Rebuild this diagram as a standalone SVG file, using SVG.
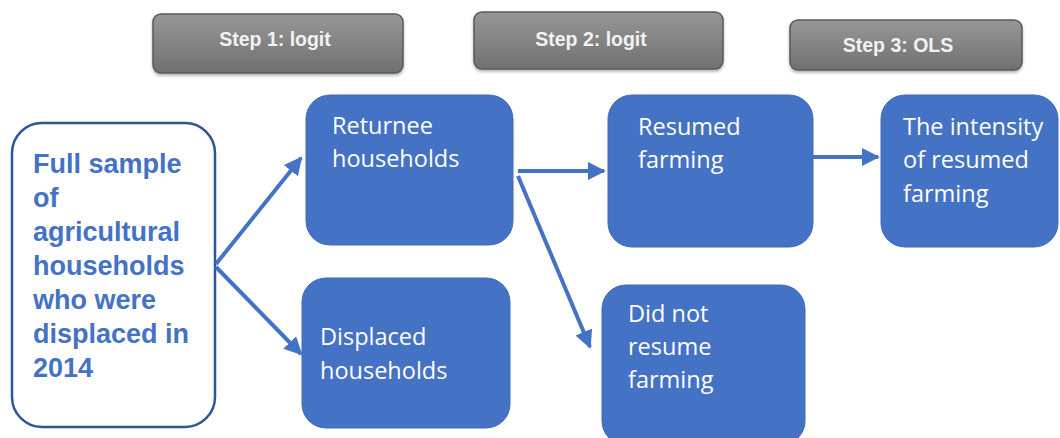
<svg xmlns="http://www.w3.org/2000/svg" width="1060" height="438" viewBox="0 0 1060 438">
<defs>
<linearGradient id="gray" x1="0" y1="0" x2="0" y2="1">
<stop offset="0" stop-color="#979797"/>
<stop offset="1" stop-color="#707070"/>
</linearGradient>
<marker id="ah" viewBox="0 0 10 10" refX="9" refY="5" markerWidth="4.5" markerHeight="4.5" orient="auto" markerUnits="strokeWidth">
<path d="M0,0 L10,5 L0,10 z" fill="#4472C4"/>
</marker>
<filter id="sh" x="-10%" y="-20%" width="120%" height="150%">
<feDropShadow dx="0" dy="2" stdDeviation="1.5" flood-color="#000" flood-opacity="0.3"/>
</filter>
</defs>
<style>
.step{fill:url(#gray);stroke:#5a5a5a;stroke-width:1.5}
.steptxt{font-family:"Liberation Sans",Arial,sans-serif;font-weight:bold;font-size:19.5px;fill:#f2f2f2;text-anchor:middle}
.box{fill:#4472C4;stroke:#3f6bb8;stroke-width:1}
.wt{font-family:"Open Sans","Liberation Sans",Arial,sans-serif;font-size:23.5px;fill:#ffffff}
.bt{font-family:"Liberation Sans",Arial,sans-serif;font-weight:bold;font-size:27px;fill:#4472C4}
.conn{stroke:#4472C4;stroke-width:4;fill:none;marker-end:url(#ah)}
</style>
<rect width="1060" height="438" fill="#ffffff"/>
<g id="step1"><rect class="step" x="153" y="14" width="250" height="59" rx="8" filter="url(#sh)"/><text class="steptxt" x="275" y="46">Step 1: logit</text></g>
<g id="step2"><rect class="step" x="474" y="12" width="249" height="57" rx="8" filter="url(#sh)"/><text class="steptxt" x="591" y="46">Step 2: logit</text></g>
<g id="step3"><rect class="step" x="790" y="20" width="232" height="50" rx="8" filter="url(#sh)"/><text class="steptxt" x="898" y="52">Step 3: OLS</text></g>
<g id="full"><rect x="12" y="123" width="203" height="304" rx="30" fill="#ffffff" stroke="#2F5597" stroke-width="2.5"/>
<text class="bt"><tspan x="33" y="173">Full sample</tspan><tspan x="33" y="207">of</tspan><tspan x="33" y="241">agricultural</tspan><tspan x="33" y="275">households</tspan><tspan x="33" y="309">who were</tspan><tspan x="33" y="343">displaced in</tspan><tspan x="33" y="377">2014</tspan></text></g>
<g id="returnee"><rect class="box" x="306" y="95" width="207" height="150" rx="24"/><text class="wt"><tspan x="332" y="134">Returnee</tspan><tspan x="332" y="167">households</tspan></text></g>
<g id="displaced"><rect class="box" x="302" y="278" width="208" height="150" rx="24"/><text class="wt"><tspan x="320" y="345">Displaced</tspan><tspan x="320" y="379">households</tspan></text></g>
<g id="resumed"><rect class="box" x="608" y="95" width="205" height="152" rx="24"/><text class="wt"><tspan x="638" y="135">Resumed</tspan><tspan x="638" y="168">farming</tspan></text></g>
<g id="intensity"><rect class="box" x="881" y="95" width="177" height="152" rx="24"/><text class="wt"><tspan x="903" y="135">The intensity</tspan><tspan x="903" y="168">of resumed</tspan><tspan x="903" y="202">farming</tspan></text></g>
<g id="notresumed"><rect class="box" x="602" y="285" width="203" height="160" rx="24"/><text class="wt"><tspan x="628" y="322">Did not</tspan><tspan x="628" y="355">resume</tspan><tspan x="628" y="388">farming</tspan></text></g>
<g id="connectors">
<line class="conn" x1="216" y1="264" x2="301" y2="158"/>
<line class="conn" x1="216" y1="267" x2="301" y2="354"/>
<line class="conn" x1="518" y1="171" x2="604" y2="171"/>
<line class="conn" x1="518" y1="176" x2="590" y2="347"/>
<line class="conn" x1="813" y1="157" x2="878" y2="157"/>
</g>
</svg>
